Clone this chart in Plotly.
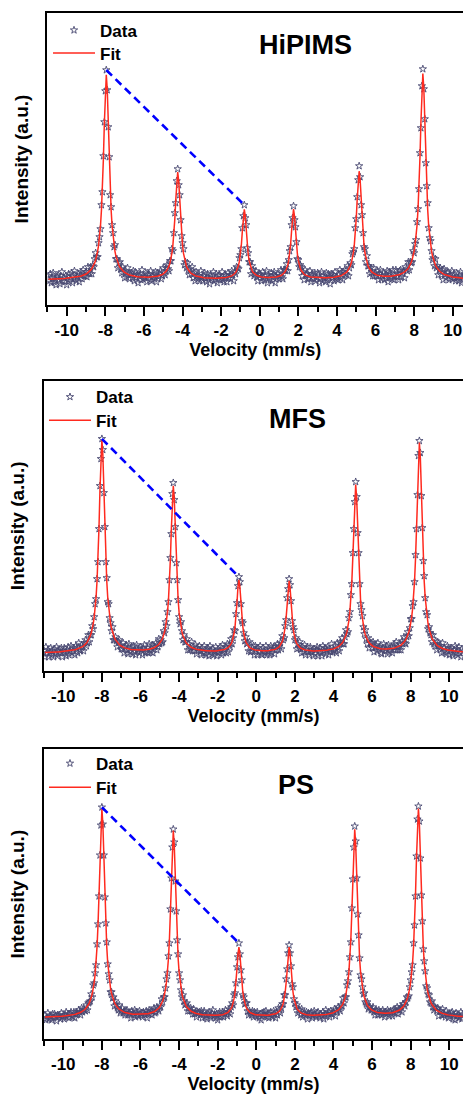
import numpy as np
import plotly.graph_objects as go

# Velocity channels of the spectrometer (mm/s), one per recorded point
velocity = np.linspace(-10.95, 10.70, 434)

# ---------------- HiPIMS ----------------
hipims_fit = [
 25.8,25.8,25.9,25.9,25.9,26.0,26.0,26.0,26.1,26.1,26.1,26.2,26.2,26.3,26.3,26.4,26.5,26.5,26.6,26.7,
 26.8,26.9,27.0,27.1,27.2,27.3,27.4,27.6,27.7,27.9,28.1,28.3,28.5,28.7,29.0,29.3,29.7,30.1,30.5,31.0,
 31.6,32.3,33.1,34.0,35.1,36.4,37.9,39.8,42.1,45.0,48.7,53.5,59.7,68.1,79.4,95.1,116.8,146.0,181.5,215.5,
 230.2,215.6,181.6,146.1,116.9,95.2,79.5,68.2,59.8,53.6,48.8,45.1,42.2,39.9,38.0,36.5,35.2,34.1,33.3,32.5,
 31.8,31.3,30.8,30.4,30.0,29.7,29.4,29.1,28.9,28.7,28.5,28.4,28.3,28.2,28.1,28.0,27.9,27.9,27.9,27.8,
 27.8,27.8,27.8,27.8,27.8,27.9,27.9,28.0,28.0,28.1,28.3,28.4,28.6,28.8,29.0,29.3,29.6,30.0,30.5,31.1,
 31.8,32.7,33.8,35.2,36.9,39.1,42.1,46.1,51.7,59.6,70.6,85.9,105.1,124.1,133.0,124.1,105.1,85.8,70.5,59.5,
 51.6,46.0,42.0,39.0,36.7,35.0,33.6,32.5,31.6,30.8,30.2,29.7,29.3,28.9,28.6,28.3,28.1,27.9,27.7,27.5,
 27.4,27.3,27.2,27.1,27.0,26.9,26.9,26.8,26.8,26.7,26.8,26.8,26.8,26.8,26.8,26.8,26.8,26.9,26.9,27.0,
 27.0,27.1,27.2,27.3,27.5,27.6,27.8,28.1,28.4,28.7,29.1,29.7,30.4,31.3,32.5,34.2,36.4,39.6,44.1,50.8,
 60.6,74.1,88.6,95.6,88.8,74.3,60.8,51.0,44.3,39.8,36.7,34.4,32.8,31.6,30.7,30.0,29.5,29.0,28.7,28.4,
 28.2,28.0,27.8,27.7,27.6,27.5,27.5,27.4,27.4,27.4,27.4,27.5,27.5,27.6,27.7,27.8,28.0,28.2,28.4,28.7,
 29.0,29.5,30.0,30.7,31.7,32.9,34.5,36.8,39.8,44.3,51.0,60.8,74.3,88.8,95.8,88.8,74.3,60.8,51.0,44.3,
 39.8,36.7,34.4,32.9,31.7,30.7,30.0,29.5,29.0,28.6,28.4,28.1,27.9,27.8,27.7,27.6,27.5,27.4,27.3,27.3,
 27.2,27.2,27.2,27.2,27.2,27.2,27.2,27.2,27.2,27.3,27.3,27.3,27.4,27.5,27.6,27.7,27.8,28.0,28.1,28.3,
 28.5,28.7,29.0,29.3,29.6,30.1,30.6,31.2,32.0,32.8,34.0,35.4,37.1,39.4,42.4,46.5,52.1,60.1,71.2,86.6,
 106.1,125.1,133.8,125.2,106.1,86.6,71.2,60.2,52.2,46.6,42.5,39.6,37.3,35.6,34.2,33.1,32.3,31.6,31.0,30.5,
 30.1,29.8,29.5,29.3,29.1,29.0,28.9,28.8,28.7,28.7,28.7,28.6,28.7,28.7,28.8,28.8,28.9,29.0,29.1,29.3,
 29.5,29.7,29.9,30.2,30.5,30.8,31.3,31.7,32.3,33.0,33.7,34.6,35.7,36.9,38.5,40.4,42.7,45.6,49.3,54.1,
 60.3,68.7,80.0,95.8,117.7,147.0,182.7,216.8,231.5,216.6,182.5,146.8,117.5,95.6,79.8,68.5,60.0,53.8,48.9,45.2,
 42.3,40.0,38.1,36.5,35.3,34.2,33.2,32.4,31.7,31.2,30.6,30.2,29.8,29.5,29.1,28.9,28.6,28.4,28.2,28.0,
 27.8,27.7,27.5,27.4,27.3,27.2,27.1,27.0,26.9,26.8,26.7,26.7,26.6,26.5]
hipims_data = [
 29,24,31,22,27,32,23,26,20,28,30,25,21,29,33,24,27,23,29,20,
 28,31,24,26,32,22,29,34,26,24,28,31,23,30,33,26,35,29,29,33,
 28,38,33,31,38,31,39,38,46,52,48,48,62,68,76,100,113,149,183,214,
 235,215,178,148,110,98,80,72,58,60,46,46,37,42,43,36,32,38,33,27,
 34,28,37,31,26,30,32,27,34,24,33,27,30,22,29,31,25,35,26,28,
 27,32,23,30,31,25,34,24,28,29,26,33,23,32,28,31,34,26,29,37,
 32,30,37,40,36,34,44,44,56,54,72,92,102,124,136,120,110,85,69,62,
 56,40,43,37,42,35,30,36,31,38,27,32,24,33,29,26,29,24,34,27,
 24,29,32,26,23,31,27,21,30,28,25,33,24,26,31,22,29,30,25,27,
 33,25,23,30,29,23,32,27,30,26,34,30,24,33,31,38,37,36,47,50,
 56,77,89,100,87,80,57,52,43,43,31,39,35,29,31,34,28,24,30,31,
 30,24,33,27,25,29,34,22,30,27,25,32,24,30,33,22,29,27,31,26,
 29,35,28,26,35,35,34,41,34,45,54,58,80,87,99,85,78,63,46,45,
 38,40,38,29,33,25,35,30,31,26,27,34,23,31,29,26,32,24,27,32,
 30,22,26,33,24,29,27,23,32,25,31,28,21,31,27,30,24,33,26,28,
 25,30,35,27,33,25,33,35,31,30,39,29,37,42,40,51,53,56,77,86,
 108,125,139,128,100,90,72,58,56,43,49,39,39,31,37,33,29,37,29,32,
 29,34,25,31,35,26,29,32,25,30,27,34,23,33,31,28,26,35,25,29,
 35,28,31,25,34,35,28,32,34,27,38,36,34,43,35,43,42,43,54,52,
 61,65,83,96,116,152,177,219,236,216,186,142,119,102,77,67,64,54,45,47,
 39,46,37,39,30,35,37,30,35,25,36,30,27,32,33,25,30,27,34,26,
 31,27,24,32,27,24,29,33,22,28,25,31,27,24]

# ---------------- MFS ----------------
mfs_fit = [
 18.4,18.5,18.5,18.5,18.6,18.6,18.6,18.7,18.7,18.8,18.8,18.9,18.9,19.0,19.0,19.1,19.2,19.3,19.3,19.4,
 19.5,19.6,19.7,19.8,20.0,20.1,20.2,20.4,20.6,20.8,21.0,21.2,21.5,21.8,22.1,22.5,22.9,23.3,23.9,24.3,
 25.1,25.9,26.9,28.0,29.3,30.9,32.9,35.3,38.3,42.1,47.1,53.6,62.3,74.1,90.4,113.0,143.4,180.5,215.4,231.0,
 215.7,180.8,143.7,113.3,90.7,74.4,62.6,53.9,47.4,42.5,38.7,35.7,33.3,31.3,29.8,28.4,27.3,26.4,25.6,24.9,
 24.4,23.9,23.4,23.1,22.7,22.4,22.2,22.0,21.8,21.6,21.5,21.4,21.2,21.2,21.1,21.0,21.0,21.0,21.0,21.0,
 21.0,21.0,21.1,21.1,21.2,21.3,21.5,21.6,21.8,22.0,22.2,22.6,22.9,23.3,23.8,24.3,25.0,25.7,26.7,27.8,
 29.1,30.8,32.9,35.6,39.2,43.9,50.2,58.9,71.1,88.4,112.2,142.4,171.9,185.1,171.9,142.3,112.1,88.2,71.0,58.8,
 50.1,43.8,39.1,35.5,32.8,30.6,28.9,27.5,26.4,25.4,24.7,24.0,23.5,23.0,22.6,22.2,21.9,21.6,21.4,21.2,
 21.0,20.8,20.7,20.6,20.5,20.4,20.3,20.2,20.2,20.1,20.1,20.0,20.0,20.0,20.0,20.0,20.1,20.1,20.2,20.2,
 20.3,20.4,20.6,20.7,20.9,21.2,21.5,21.9,22.3,22.9,23.6,24.6,25.8,27.4,29.7,33.0,37.7,44.6,54.7,68.6,
 83.7,91.0,83.8,68.7,54.8,44.6,37.7,33.0,29.8,27.5,25.8,24.6,23.6,22.9,22.3,21.9,21.5,21.2,21.0,20.8,
 20.6,20.5,20.4,20.3,20.2,20.2,20.2,20.1,20.1,20.2,20.2,20.3,20.4,20.5,20.6,20.7,20.9,21.2,21.5,21.9,
 22.3,22.9,23.6,24.5,25.8,27.4,29.6,32.9,37.4,44.2,54.3,68.0,82.9,90.0,82.8,68.0,54.3,44.2,37.4,32.8,
 29.6,27.4,25.7,24.5,23.6,22.9,22.3,21.9,21.5,21.2,21.0,20.8,20.6,20.5,20.4,20.3,20.2,20.2,20.1,20.1,
 20.1,20.1,20.1,20.1,20.2,20.2,20.3,20.3,20.4,20.5,20.6,20.6,20.8,20.9,21.0,21.2,21.4,21.6,21.9,22.1,
 22.5,22.8,23.2,23.7,24.3,25.0,25.8,26.7,27.9,29.3,31.0,33.1,35.9,39.5,44.2,50.6,59.3,71.6,89.0,113.0,
 143.3,173.1,186.4,173.0,143.2,112.9,89.0,71.6,59.3,50.6,44.3,39.6,36.0,33.3,31.2,29.5,28.1,27.0,26.1,25.3,
 24.7,24.2,23.8,23.4,23.1,22.8,22.6,22.4,22.3,22.1,22.1,22.0,22.0,22.0,22.0,22.0,22.0,22.1,22.2,22.4,
 22.5,22.7,22.9,23.2,23.5,23.8,24.2,24.7,25.3,25.9,26.7,27.6,28.6,30.0,31.5,33.4,35.7,38.7,42.5,47.3,
 53.7,62.3,73.9,90.0,112.3,142.1,178.7,213.2,228.2,213.1,178.6,142.0,112.1,89.7,73.6,62.0,53.4,47.0,42.1,38.3,
 35.3,32.9,31.0,29.4,28.0,26.9,26.0,25.2,24.5,23.9,23.4,22.9,22.5,22.2,21.8,21.6,21.3,21.1,20.8,20.7,
 20.5,20.3,20.2,20.0,19.9,19.8,19.7,19.6,19.5,19.4,19.4,19.3,19.2,19.2]
mfs_data = [
 14,24,18,21,14,19,23,16,20,14,22,17,24,15,19,21,18,23,14,20,
 23,18,15,21,24,16,20,25,18,20,23,16,25,23,18,28,21,20,26,24,
 20,28,31,25,28,36,29,36,36,45,42,54,67,72,92,109,142,185,212,232,
 221,178,144,109,93,69,67,53,48,40,44,31,31,34,30,24,29,31,25,22,
 22,28,18,24,26,21,17,27,19,22,24,17,25,19,16,26,20,22,18,24,
 21,16,23,26,18,19,23,18,27,21,19,26,18,25,24,28,21,24,32,27,
 31,28,29,40,38,49,45,59,69,91,113,137,177,188,171,144,108,91,71,54,
 47,49,40,31,36,29,29,32,21,27,21,23,29,20,24,20,26,17,23,21,
 25,20,16,23,18,25,18,16,21,23,15,25,20,17,22,16,19,24,15,21,
 18,20,24,16,26,18,21,24,18,27,19,26,24,32,27,33,41,40,57,68,
 85,94,89,67,50,48,38,30,34,27,28,20,29,19,20,23,25,16,25,21,
 16,23,19,25,17,16,23,20,18,25,16,19,22,16,25,18,22,24,17,24,
 21,27,21,25,28,22,35,31,33,45,51,73,82,92,86,70,50,44,41,31,
 33,22,27,23,29,22,18,24,19,26,16,21,24,19,16,24,19,21,15,22,
 17,21,24,15,20,23,18,15,25,20,23,17,21,24,16,22,19,27,19,21,
 20,25,18,28,23,20,29,27,33,27,27,34,41,37,39,53,59,76,87,118,
 142,169,189,174,138,118,87,67,61,55,44,37,41,32,27,33,23,28,28,23,
 29,19,24,26,20,28,22,24,18,17,23,27,20,22,25,17,26,19,21,24,
 18,24,27,21,29,21,24,21,27,21,30,27,34,28,27,34,39,35,43,52,
 52,65,69,89,116,142,176,215,230,218,175,143,110,95,73,59,56,42,44,38,
 36,29,36,27,25,30,21,29,25,23,25,18,28,19,23,20,17,25,23,16,
 21,23,17,15,21,25,18,22,16,24,18,14,22,19]

# ---------------- PS ----------------
ps_fit = [
 22.0,22.0,22.0,22.1,22.1,22.1,22.2,22.2,22.2,22.3,22.3,22.4,22.4,22.5,22.5,22.6,22.7,22.7,22.8,22.9,
 23.0,23.1,23.2,23.3,23.4,23.5,23.7,23.8,24.0,24.2,24.4,24.7,25.0,25.2,25.6,25.9,26.3,26.8,27.3,27.9,
 28.5,29.3,30.3,31.4,32.7,34.3,36.2,38.5,41.5,45.3,50.1,56.5,65.0,76.6,92.7,114.8,144.7,181.0,215.3,230.5,
 215.5,181.2,144.9,115.0,93.0,76.9,65.3,56.8,50.4,45.6,41.8,38.9,36.6,34.7,33.1,31.8,30.7,29.8,29.1,28.4,
 27.8,27.4,26.9,26.6,26.3,26.0,25.7,25.5,25.3,25.2,25.0,24.9,24.8,24.8,24.7,24.7,24.6,24.6,24.6,24.6,
 24.7,24.7,24.8,24.9,25.0,25.1,25.2,25.4,25.6,25.9,26.1,26.5,26.8,27.3,27.8,28.4,29.1,30.0,31.0,32.3,
 33.8,35.7,38.1,41.2,45.1,50.3,57.4,67.2,80.8,100.1,126.7,160.5,193.7,208.7,193.7,160.5,126.8,100.1,80.8,67.2,
 57.4,50.3,45.1,41.1,38.0,35.6,33.7,32.1,30.9,29.8,28.9,28.2,27.6,27.0,26.6,26.2,25.8,25.5,25.2,25.0,
 24.8,24.6,24.5,24.3,24.2,24.1,24.0,23.9,23.8,23.8,23.7,23.7,23.7,23.6,23.6,23.6,23.7,23.7,23.7,23.8,
 23.9,24.0,24.1,24.3,24.4,24.7,25.0,25.3,25.8,26.3,27.0,27.9,29.1,30.7,32.9,36.1,40.6,47.2,57.0,70.5,
 85.0,92.0,85.0,70.6,57.1,47.3,40.6,36.1,33.0,30.7,29.1,27.9,27.0,26.3,25.8,25.3,25.0,24.7,24.4,24.2,
 24.1,24.0,23.9,23.8,23.7,23.7,23.6,23.6,23.6,23.7,23.7,23.8,23.9,24.0,24.1,24.2,24.4,24.7,25.0,25.3,
 25.8,26.3,27.0,27.9,29.1,30.7,33.0,36.1,40.6,47.3,57.1,70.6,85.0,92.0,85.1,70.6,57.1,47.3,40.6,36.2,
 33.0,30.8,29.2,28.0,27.1,26.4,25.9,25.4,25.1,24.8,24.6,24.4,24.2,24.1,24.0,23.9,23.9,23.8,23.8,23.8,
 23.8,23.8,23.8,23.8,23.9,23.9,24.0,24.1,24.2,24.3,24.4,24.5,24.7,24.8,25.0,25.2,25.4,25.7,26.0,26.4,
 26.8,27.2,27.8,28.4,29.2,30.1,31.1,32.4,34.0,35.9,38.3,41.4,45.4,50.6,57.7,67.5,81.1,100.4,127.1,160.9,
 194.0,210.0,194.9,161.6,127.6,100.8,81.4,67.7,57.9,50.9,45.6,41.6,38.5,36.2,34.2,32.7,31.4,30.4,29.6,28.9,
 28.3,27.8,27.4,27.0,26.7,26.5,26.3,26.1,25.9,25.8,25.8,25.7,25.7,25.7,25.7,25.7,25.8,25.9,26.0,26.1,
 26.3,26.5,26.8,27.1,27.4,27.8,28.3,28.8,29.5,30.2,31.1,32.2,33.5,35.0,36.9,39.2,42.2,45.9,50.7,57.1,
 65.6,77.2,93.2,115.3,145.2,181.5,215.8,230.7,215.6,181.3,145.0,115.1,93.0,76.9,65.3,56.8,50.4,45.5,41.7,38.7,
 36.4,34.5,32.9,31.6,30.4,29.5,28.7,28.0,27.4,26.9,26.4,26.0,25.7,25.3,25.1,24.8,24.6,24.4,24.2,24.0,
 23.8,23.7,23.6,23.4,23.3,23.2,23.1,23.0,22.9,22.9,22.8,22.7,22.7,22.6]
ps_data = [
 24,19,21,26,20,23,22,19,25,21,25,23,18,24,22,24,20,26,22,23,
 20,24,27,22,25,21,25,27,23,22,27,21,25,27,25,29,27,24,31,27,
 30,29,28,34,29,36,37,38,45,42,54,56,66,74,95,115,143,184,214,232,
 215,184,142,116,97,75,65,59,47,47,41,42,33,38,34,31,29,34,26,28,
 31,26,28,24,28,29,24,26,26,21,28,26,24,29,22,27,24,23,28,24,
 26,22,27,25,24,28,21,26,29,25,28,24,28,31,26,27,32,30,28,33,
 32,40,37,42,42,51,60,66,83,96,130,161,192,210,197,158,128,99,85,66,
 59,49,42,44,38,34,35,36,28,31,28,31,28,25,30,25,27,22,27,26,
 27,24,28,21,25,28,22,24,20,25,27,23,21,26,29,23,24,21,25,19,
 25,27,22,23,27,22,26,29,25,23,27,30,25,32,36,34,44,46,56,72,
 82,96,85,69,59,44,42,35,36,36,28,24,28,26,24,28,22,27,25,23,
 27,23,21,25,19,26,24,27,23,28,22,25,21,25,27,23,22,28,25,21,
 27,24,31,29,26,31,35,35,44,44,60,70,86,94,86,73,55,52,40,36,
 32,34,26,29,29,24,30,22,25,26,24,27,20,26,23,25,27,21,23,28,
 24,22,26,27,23,21,25,23,27,20,25,29,23,25,27,22,28,25,25,27,
 30,23,29,27,32,30,28,34,33,41,36,42,42,54,58,67,82,97,131,160,
 192,213,198,161,125,104,81,64,60,52,45,46,37,35,37,30,32,32,29,29,
 32,27,24,29,28,24,29,25,27,24,29,26,22,27,25,29,27,23,28,25,
 23,29,27,30,26,32,25,30,29,32,27,35,35,33,37,42,41,43,52,59,
 67,74,96,114,143,183,220,233,218,181,144,118,90,78,68,53,51,45,44,37,
 36,38,32,29,32,31,28,31,23,28,28,24,30,24,25,22,28,25,21,25,
 23,26,27,20,24,19,26,23,24,21,22,27,20,25]

samples = ["HiPIMS", "MFS", "PS"]
fits = [hipims_fit, mfs_fit, ps_fit]
datas = [hipims_data, mfs_data, ps_data]
# channel indices of line 1 and line 3 maxima (joined by the dashed guide)
peak1_idx = [60, 59, 59]
peak3_idx = [203, 201, 201]

tick_vals = [-10, -8, -6, -4, -2, 0, 2, 4, 6, 8, 10]
tick_text = ["-10", "-8", "-6", "-4", "-2", "0", "2", "4", "6", "8", "10"]

for nm, f, d in zip(samples, fits, datas):
    if len(f) != len(velocity) or len(d) != len(velocity):
        raise ValueError(f"{nm}: fit {len(f)} data {len(d)} vel {len(velocity)}")

FONT = "Liberation Sans, Arial, Helvetica, sans-serif"

# layout geometry per panel (domains in paper fraction)
x_domains = [[0.1024, 1.0], [0.0950, 1.0], [0.0950, 1.0]]
y_domains = [[0.7215, 0.9881], [0.3872, 0.6523], [0.0511, 0.3157]]
x_ranges = [[-11, 10.53], [-11, 10.71], [-11, 10.71]]
y_ranges = [[0, 292], [0, 290], [0, 290]]
title_pos = [(0.621, 0.890), (0.606, 0.867), (0.601, 0.876)]
legend_x = [0.1037, 0.0950, 0.0950]
legend_y_data = [0.9885, 0.6536, 0.3189]
legend_y_fit = [0.9676, 0.6322, 0.2970]

fig = go.Figure()
layout_kw = {}
annotations = []
for i in range(3):
    s = "" if i == 0 else str(i + 1)
    xa, ya = "x" + s, "y" + s
    lg_d = "legend" if i == 0 else "legend" + str(2 * i + 1)
    lg_f = "legend" + str(2 * i + 2)
    fig.add_trace(go.Scatter(
        x=velocity, y=datas[i], mode="markers", name="Data",
        marker=dict(symbol="star-open", size=5.5, color="#474770",
                    line=dict(width=0.9, color="#474770")),
        xaxis=xa, yaxis=ya, legend=lg_d))
    fig.add_trace(go.Scatter(
        x=velocity, y=fits[i], mode="lines", name="Fit",
        line=dict(color="#ff2a1f", width=1.5),
        xaxis=xa, yaxis=ya, legend=lg_f))
    p1, p3 = peak1_idx[i], peak3_idx[i]
    fig.add_trace(go.Scatter(
        x=[velocity[p1], velocity[p3]], y=[datas[i][p1], datas[i][p3]],
        mode="lines", showlegend=False, hoverinfo="skip",
        line=dict(color="#0000ff", width=2.6, dash="8px,5px"),
        xaxis=xa, yaxis=ya))

    layout_kw["xaxis" + s] = dict(
        domain=x_domains[i], range=x_ranges[i], anchor=ya,
        showline=True, linecolor="black", linewidth=2, mirror=True,
        showgrid=False, zeroline=False,
        tickmode="array", tickvals=tick_vals, ticktext=tick_text,
        ticks="outside", ticklen=9, tickwidth=2, tickcolor="black",
        minor=dict(tickmode="linear", tick0=-11, dtick=1, ticks="outside",
                   ticklen=5, tickwidth=2, tickcolor="black"),
        tickfont=dict(family=FONT, size=17, color="black", weight="bold"),
        title=dict(text="Velocity (mm/s)", standoff=4,
                   font=dict(family=FONT, size=18, color="black", weight="bold")),
    )
    layout_kw["yaxis" + s] = dict(
        domain=y_domains[i], range=y_ranges[i], anchor=xa,
        showline=True, linecolor="black", linewidth=2, mirror=False,
        showgrid=False, zeroline=False, ticks="", showticklabels=False,
        title=dict(text="Intensity (a.u.)", standoff=12,
                   font=dict(family=FONT, size=19, color="black", weight="bold")),
    )
    for lg, ly in ((lg_d, legend_y_data[i]), (lg_f, legend_y_fit[i])):
        layout_kw[lg] = dict(
            x=legend_x[i], y=ly, xanchor="left", yanchor="top",
            bgcolor="rgba(0,0,0,0)", borderwidth=0, itemwidth=42,
            font=dict(family=FONT, size=17, color="black", weight="bold"),
        )
    annotations.append(dict(
        text=samples[i], xref=xa + " domain", yref=ya + " domain",
        x=title_pos[i][0], y=title_pos[i][1], xanchor="center", yanchor="middle",
        showarrow=False,
        font=dict(family=FONT, size=27, color="black", weight="bold")))

fig.update_layout(
    width=463, height=1095,
    margin=dict(l=0, r=0, t=0, b=0),
    paper_bgcolor="white", plot_bgcolor="white",
    font=dict(family=FONT, color="black"),
    annotations=annotations,
    **layout_kw,
)

fig.write_html("out.html", config={"displayModeBar": False},
               post_script="document.body.style.margin='0px';")
